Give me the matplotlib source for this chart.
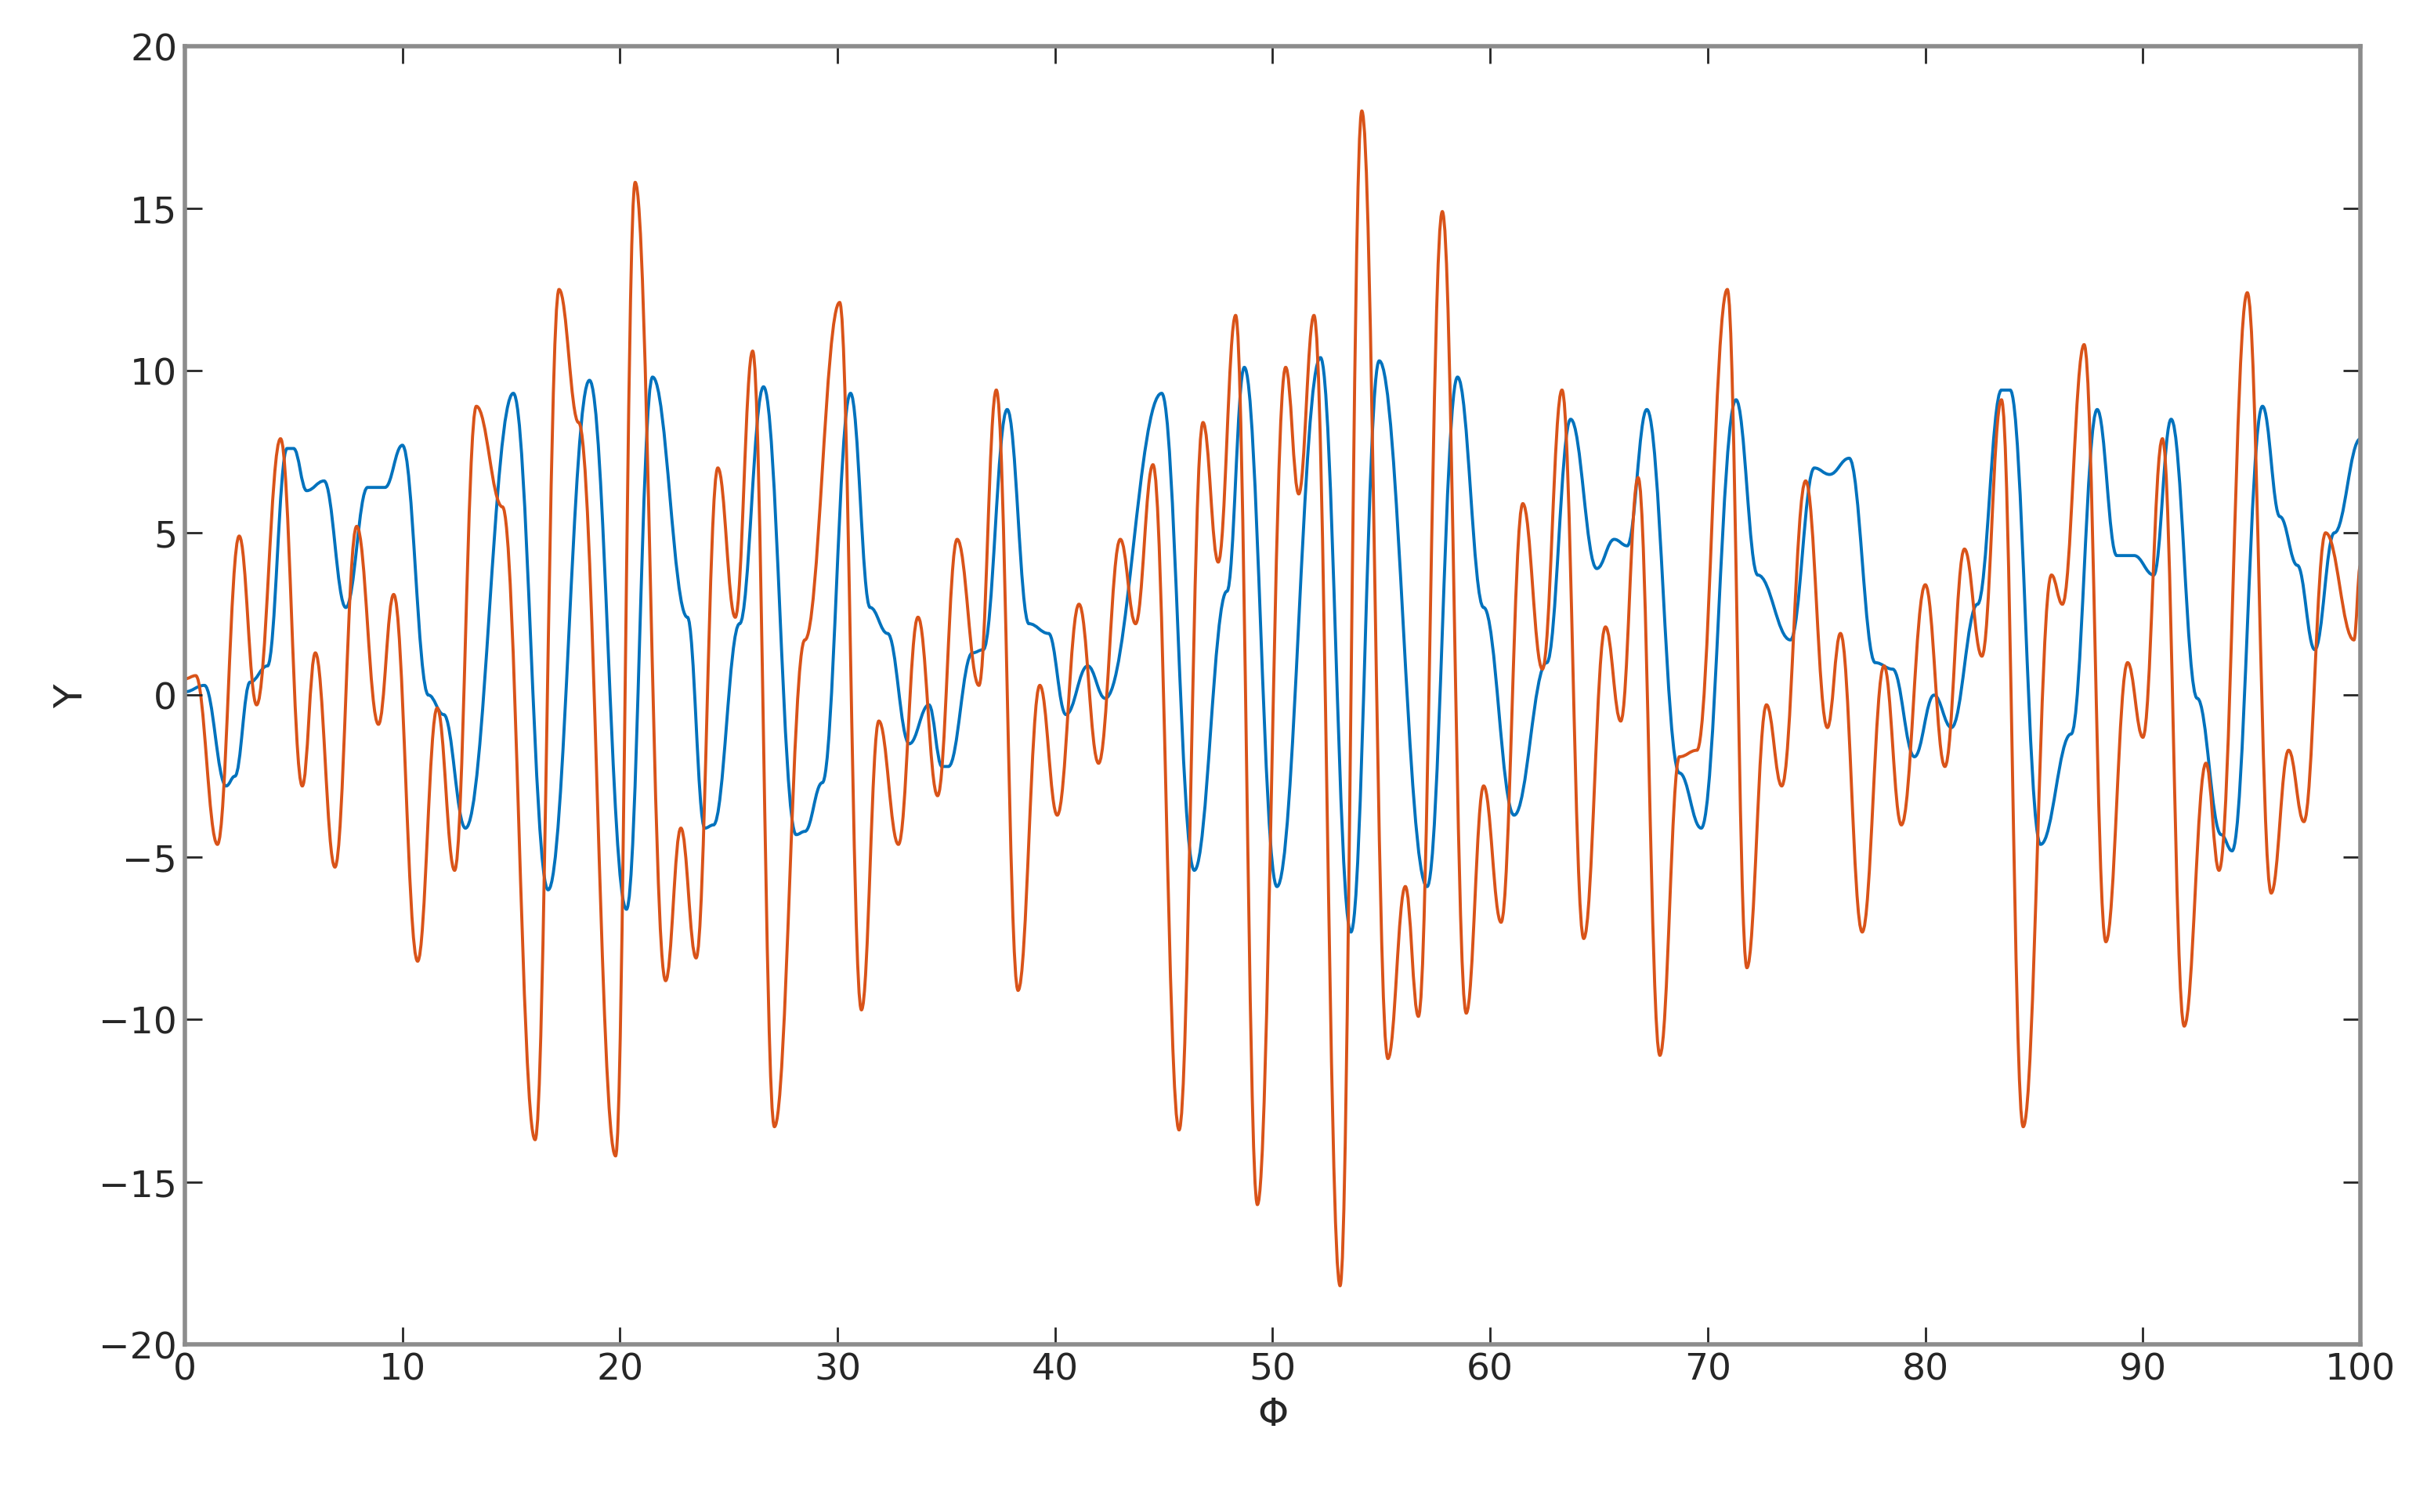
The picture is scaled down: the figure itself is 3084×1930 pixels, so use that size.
import numpy as np
import matplotlib
matplotlib.use("Agg")
import matplotlib.pyplot as plt
from matplotlib.path import Path
from matplotlib.patches import PathPatch

# turning points (x, y)
blue_x = [0.0, 0.9, 1.9, 2.3, 3.0, 3.8, 4.7, 5.0, 5.6, 6.4, 7.4, 8.4, 9.2, 10.0,
          11.2, 11.9, 12.9, 15.1, 16.7, 18.6, 20.3, 21.5, 23.1, 23.9, 24.3, 25.5,
          26.6, 28.1, 28.5, 29.3, 30.6, 31.5, 32.3, 33.3, 34.2, 34.8, 35.1, 36.2,
          36.7, 37.8, 38.8, 39.7, 40.5, 41.5, 42.3, 44.9, 46.4, 47.9, 48.7, 50.2,
          52.2, 53.6, 54.9, 57.1, 58.5, 59.7, 61.1, 62.6, 63.7, 64.9, 65.7, 66.3,
          67.2, 68.7, 69.7, 71.3, 72.3, 73.8, 74.9, 75.6, 76.5, 77.7, 78.5, 79.5,
          80.4, 81.2, 82.4, 83.5, 83.9, 85.3, 86.7, 87.9, 88.8, 89.6, 90.5, 91.3,
          92.5, 93.6, 94.1, 95.5, 96.3, 97.1, 97.9, 98.8, 100.0]
blue_y = [0.1, 0.3, -2.8, -2.5, 0.4, 0.9, 7.6, 7.6, 6.3, 6.6, 2.7, 6.4, 6.4, 7.7,
          0.0, -0.6, -4.1, 9.3, -6.0, 9.7, -6.6, 9.8, 2.4, -4.1, -4.0, 2.2,
          9.5, -4.3, -4.2, -2.7, 9.3, 2.7, 1.9, -1.5, -0.3, -2.2, -2.2, 1.3,
          1.4, 8.8, 2.2, 1.9, -0.6, 0.9, -0.1, 9.3, -5.4, 3.2, 10.1, -5.9,
          10.4, -7.3, 10.3, -5.9, 9.8, 2.7, -3.7, 1.0, 8.5, 3.9, 4.8, 4.6,
          8.8, -2.4, -4.1, 9.1, 3.7, 1.7, 7.0, 6.8, 7.3, 1.0, 0.8, -1.9,
          0.0, -1.0, 2.8, 9.4, 9.4, -4.6, -1.2, 8.8, 4.3, 4.3, 3.7, 8.5,
          -0.1, -4.3, -4.8, 8.9, 5.5, 4.0, 1.4, 5.0, 7.9]

orange_x = [0.0, 0.5, 1.5, 2.5, 3.3, 4.4, 5.4, 6.0, 6.9, 7.9, 8.9, 9.6, 10.7, 11.6,
            12.4, 13.4, 14.6, 16.1, 17.2, 18.1, 19.8, 20.7, 22.1, 22.8, 23.5, 24.5,
            25.3, 26.1, 27.1, 28.5, 30.1, 31.1, 31.9, 32.8, 33.7, 34.6, 35.5, 36.5,
            37.3, 38.3, 39.3, 40.1, 41.1, 42.0, 43.0, 43.7, 44.5, 45.7, 46.8, 47.5,
            48.3, 49.3, 50.6, 51.2, 51.9, 53.1, 54.1, 55.3, 56.1, 56.7, 57.8, 58.9,
            59.7, 60.5, 61.5, 62.4, 63.3, 64.3, 65.3, 66.0, 66.8, 67.8, 68.7, 69.5,
            70.9, 71.8, 72.7, 73.4, 74.5, 75.5, 76.1, 77.1, 78.1, 78.9, 80.0, 80.9,
            81.8, 82.6, 83.5, 84.5, 85.8, 86.3, 87.3, 88.3, 89.3, 90.0, 90.9, 91.9,
            92.9, 93.5, 94.8, 95.9, 96.7, 97.4, 98.4, 99.7, 100.0]
orange_y = [0.5, 0.6, -4.6, 4.9, -0.3, 7.9, -2.8, 1.3, -5.3, 5.2, -0.9, 3.1, -8.2, -0.4,
            -5.4, 8.9, 5.8, -13.7, 12.5, 8.4, -14.2, 15.8, -8.8, -4.1, -8.1, 7.0,
            2.4, 10.6, -13.3, 1.7, 12.1, -9.7, -0.8, -4.6, 2.4, -3.1, 4.8, 0.3,
            9.4, -9.1, 0.3, -3.7, 2.8, -2.1, 4.8, 2.2, 7.1, -13.4, 8.4, 4.1,
            11.7, -15.7, 10.1, 6.2, 11.7, -18.2, 18.0, -11.2, -5.9, -9.9, 14.9, -9.8,
            -2.8, -7.0, 5.9, 0.8, 9.4, -7.5, 2.1, -0.8, 6.7, -11.1, -1.9, -1.7,
            12.5, -8.4, -0.3, -2.8, 6.6, -1.0, 1.9, -7.3, 0.9, -4.0, 3.4, -2.2,
            4.5, 1.2, 9.1, -13.3, 3.7, 2.8, 10.8, -7.6, 1.0, -1.3, 7.9, -10.2,
            -2.1, -5.4, 12.4, -6.1, -1.7, -3.9, 5.0, 1.7, 4.0]


def smooth_path(xs, ys):
    # cubic segments with flat tangents at each turning point
    verts = [(xs[0], ys[0])]
    codes = [Path.MOVETO]
    for i in range(1, len(xs)):
        dx = (xs[i] - xs[i - 1]) / 2.5
        verts += [(xs[i - 1] + dx, ys[i - 1]), (xs[i] - dx, ys[i]), (xs[i], ys[i])]
        codes += [Path.CURVE4] * 3
    return Path(verts, codes)


fig = plt.figure(figsize=(15.42, 9.655), dpi=200)
ax = fig.add_axes([0.0765, 0.111, 0.9005, 0.858])

for xs, ys, col in [(blue_x, blue_y, "#0072BD"), (orange_x, orange_y, "#D95319")]:
    ax.add_patch(PathPatch(smooth_path(xs, ys), facecolor="none",
                           edgecolor=col, lw=1.4))

ax.set_xlim(0, 100)
ax.set_ylim(-20, 20)
ax.set_xticks(np.arange(0, 101, 10))
ax.set_yticks(np.arange(-20, 21, 5))
ax.tick_params(direction="in", top=True, right=True, length=8, width=1,
               color="#262626", labelsize=17, labelcolor="#262626")
for s in ax.spines.values():
    s.set_color("#8c8c8c")
    s.set_linewidth(2)
ax.set_xlabel("\u03a6", fontsize=18, color="#262626")
ax.set_ylabel("Y", fontsize=18, color="#262626")

fig.savefig("out.png")
